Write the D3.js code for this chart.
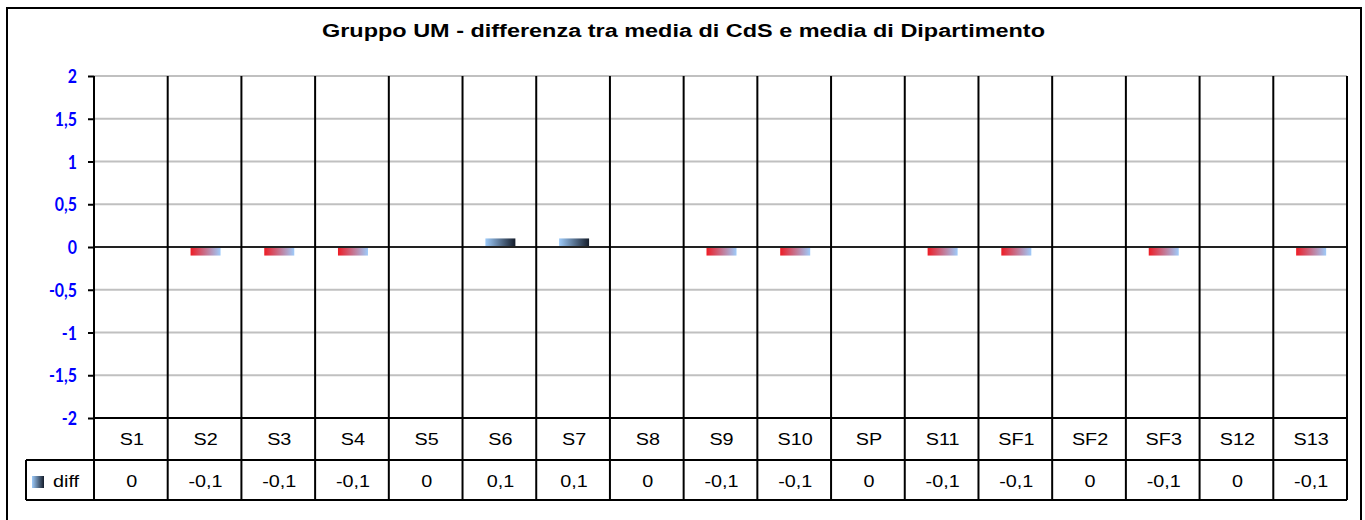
<!DOCTYPE html>
<html>
<head>
<meta charset="utf-8">
<script src="https://cdn.jsdelivr.net/npm/d3@7"></script>
<style>
  body { margin: 0; background: #fff; }
  svg { display: block; }
  .cat, .val, .leg { font-family: "Liberation Sans", Arial, sans-serif; font-size: 16.5px; fill: #000; }
  .ytick { font-family: Lato, "Open Sans", sans-serif; font-weight: bold; font-size: 18.5px; fill: #0000ff; }
  .title { font-family: "Liberation Sans", Arial, sans-serif; font-weight: bold; font-size: 18px; }
</style>
</head>
<body>
<div id="chart"></div>
<script>
var categories = ['S1','S2','S3','S4','S5','S6','S7','S8','S9','S10','SP','S11','SF1','SF2','SF3','S12','S13'];
var diffValues = [0, -0.1, -0.1, -0.1, 0, 0.1, 0.1, 0, -0.1, -0.1, 0, -0.1, -0.1, 0, -0.1, 0, -0.1];
var yTicks = [2, 1.5, 1, 0.5, 0, -0.5, -1, -1.5, -2];
var seriesName = 'diff';
var chartTitle = 'Gruppo UM - differenza tra media di CdS e media di Dipartimento';

(function() {
    var width = 1365, height = 520,
        plotLeft = 94, plotRight = 1347, plotTop = 76, plotBottom = 418,
        rowH1 = 42, rowH2 = 40, legendLeft = 26,
        stretch = 1.2,     // the original picture is widened horizontally
        tickSquash = 0.86;

    var fmt = function(v) { return String(v).replace('.', ','); };
    var at = function(x, y) { return 'translate(' + x + ',' + y + ') scale(' + stretch + ',1)'; };

    var svg = d3.select('#chart').append('svg')
        .attr('width', width)
        .attr('height', height);

    var defs = svg.append('defs');
    var neg = defs.append('linearGradient').attr('id', 'gNeg');
    neg.append('stop').attr('offset', '0%').attr('stop-color', '#ee1c25');
    neg.append('stop').attr('offset', '100%').attr('stop-color', '#9ecbfa');
    var pos = defs.append('linearGradient').attr('id', 'gPos');
    pos.append('stop').attr('offset', '0%').attr('stop-color', '#9ecbfa');
    pos.append('stop').attr('offset', '100%').attr('stop-color', '#141c2a');

    // outer frame
    svg.append('rect')
        .attr('x', 7).attr('y', 8)
        .attr('width', 1354).attr('height', 530)
        .attr('fill', 'none').attr('stroke', '#000').attr('stroke-width', 2);

    svg.append('text')
        .attr('class', 'title')
        .attr('x', 322).attr('y', 37)
        .attr('textLength', 723)
        .attr('lengthAdjust', 'spacingAndGlyphs')
        .text(chartTitle);

    var x = d3.scaleBand().domain(categories).range([plotLeft, plotRight]);
    var y = d3.scaleLinear().domain([-2, 2]).range([plotBottom, plotTop]);

    // horizontal gridlines
    svg.append('g').selectAll('line')
        .data(yTicks.filter(function(d) { return d !== 0; }))
        .enter().append('line')
        .attr('x1', plotLeft).attr('x2', plotRight)
        .attr('y1', function(d) { return y(d); })
        .attr('y2', function(d) { return y(d); })
        .attr('stroke', '#c0c0c0').attr('stroke-width', 2);

    // y axis
    var yAxis = svg.append('g')
        .attr('transform', 'translate(' + plotLeft + ',0)')
        .call(d3.axisLeft(y).tickValues(yTicks).tickSize(6).tickFormat(fmt));
    yAxis.attr('font-size', null).attr('font-family', null);
    yAxis.select('.domain').remove();
    yAxis.selectAll('.tick line').attr('stroke', '#000').attr('stroke-width', 2);
    yAxis.selectAll('.tick text')
        .attr('class', 'ytick').attr('fill', null)
        .attr('x', -17 / tickSquash).attr('dy', '0.36em')
        .attr('transform', 'scale(' + tickSquash + ',1)');

    // bars
    var bw = 30;
    svg.append('g').selectAll('rect')
        .data(diffValues.map(function(v, i) { return {cat: categories[i], v: v}; }).filter(function(d) { return d.v !== 0; }))
        .enter().append('rect')
        .attr('x', function(d) { return x(d.cat) + x.bandwidth() / 2 - bw / 2 + 1; })
        .attr('y', function(d) { return y(Math.max(0, d.v)); })
        .attr('width', bw)
        .attr('height', function(d) { return Math.abs(y(d.v) - y(0)); })
        .attr('fill', function(d) { return d.v < 0 ? 'url(#gNeg)' : 'url(#gPos)'; });

    // zero line
    svg.append('line')
        .attr('x1', plotLeft).attr('x2', plotRight)
        .attr('y1', y(0)).attr('y2', y(0))
        .attr('stroke', '#222').attr('stroke-width', 2);

    // vertical category lines through plot and table
    var tableBottom = plotBottom + rowH1 + rowH2;
    var bounds = categories.map(function(c) { return x(c); }).concat([plotRight]);
    svg.append('g').selectAll('line')
        .data(bounds)
        .enter().append('line')
        .attr('x1', function(d) { return d; }).attr('x2', function(d) { return d; })
        .attr('y1', plotTop).attr('y2', tableBottom)
        .attr('stroke', '#000').attr('stroke-width', 2);

    // table horizontal lines
    svg.append('line').attr('x1', plotLeft).attr('x2', plotRight).attr('y1', plotBottom).attr('y2', plotBottom)
        .attr('stroke', '#000').attr('stroke-width', 2);
    svg.append('line').attr('x1', legendLeft).attr('x2', plotRight).attr('y1', plotBottom + rowH1).attr('y2', plotBottom + rowH1)
        .attr('stroke', '#000').attr('stroke-width', 2);
    svg.append('line').attr('x1', legendLeft).attr('x2', plotRight).attr('y1', tableBottom).attr('y2', tableBottom)
        .attr('stroke', '#000').attr('stroke-width', 2);
    svg.append('line').attr('x1', legendLeft).attr('x2', legendLeft).attr('y1', plotBottom + rowH1).attr('y2', tableBottom)
        .attr('stroke', '#000').attr('stroke-width', 2);

    // category labels
    svg.append('g').selectAll('text')
        .data(categories)
        .enter().append('text')
        .attr('class', 'cat')
        .attr('transform', function(d) { return at(x(d) + x.bandwidth() / 2 + 1, plotBottom + 27); })
        .attr('text-anchor', 'middle')
        .text(function(d) { return d; });

    // values row
    svg.append('g').selectAll('text')
        .data(diffValues)
        .enter().append('text')
        .attr('class', 'val')
        .attr('transform', function(d, i) { return at(x(categories[i]) + x.bandwidth() / 2 + 1, plotBottom + rowH1 + 27); })
        .attr('text-anchor', 'middle')
        .text(function(d) { return fmt(d); });

    // legend key
    svg.append('rect')
        .attr('x', 32).attr('y', 476).attr('width', 12).attr('height', 12)
        .attr('fill', 'url(#gPos)');
    svg.append('text')
        .attr('class', 'leg')
        .attr('transform', at(53, plotBottom + rowH1 + 27))
        .text(seriesName);
})();
</script>
</body>
</html>
